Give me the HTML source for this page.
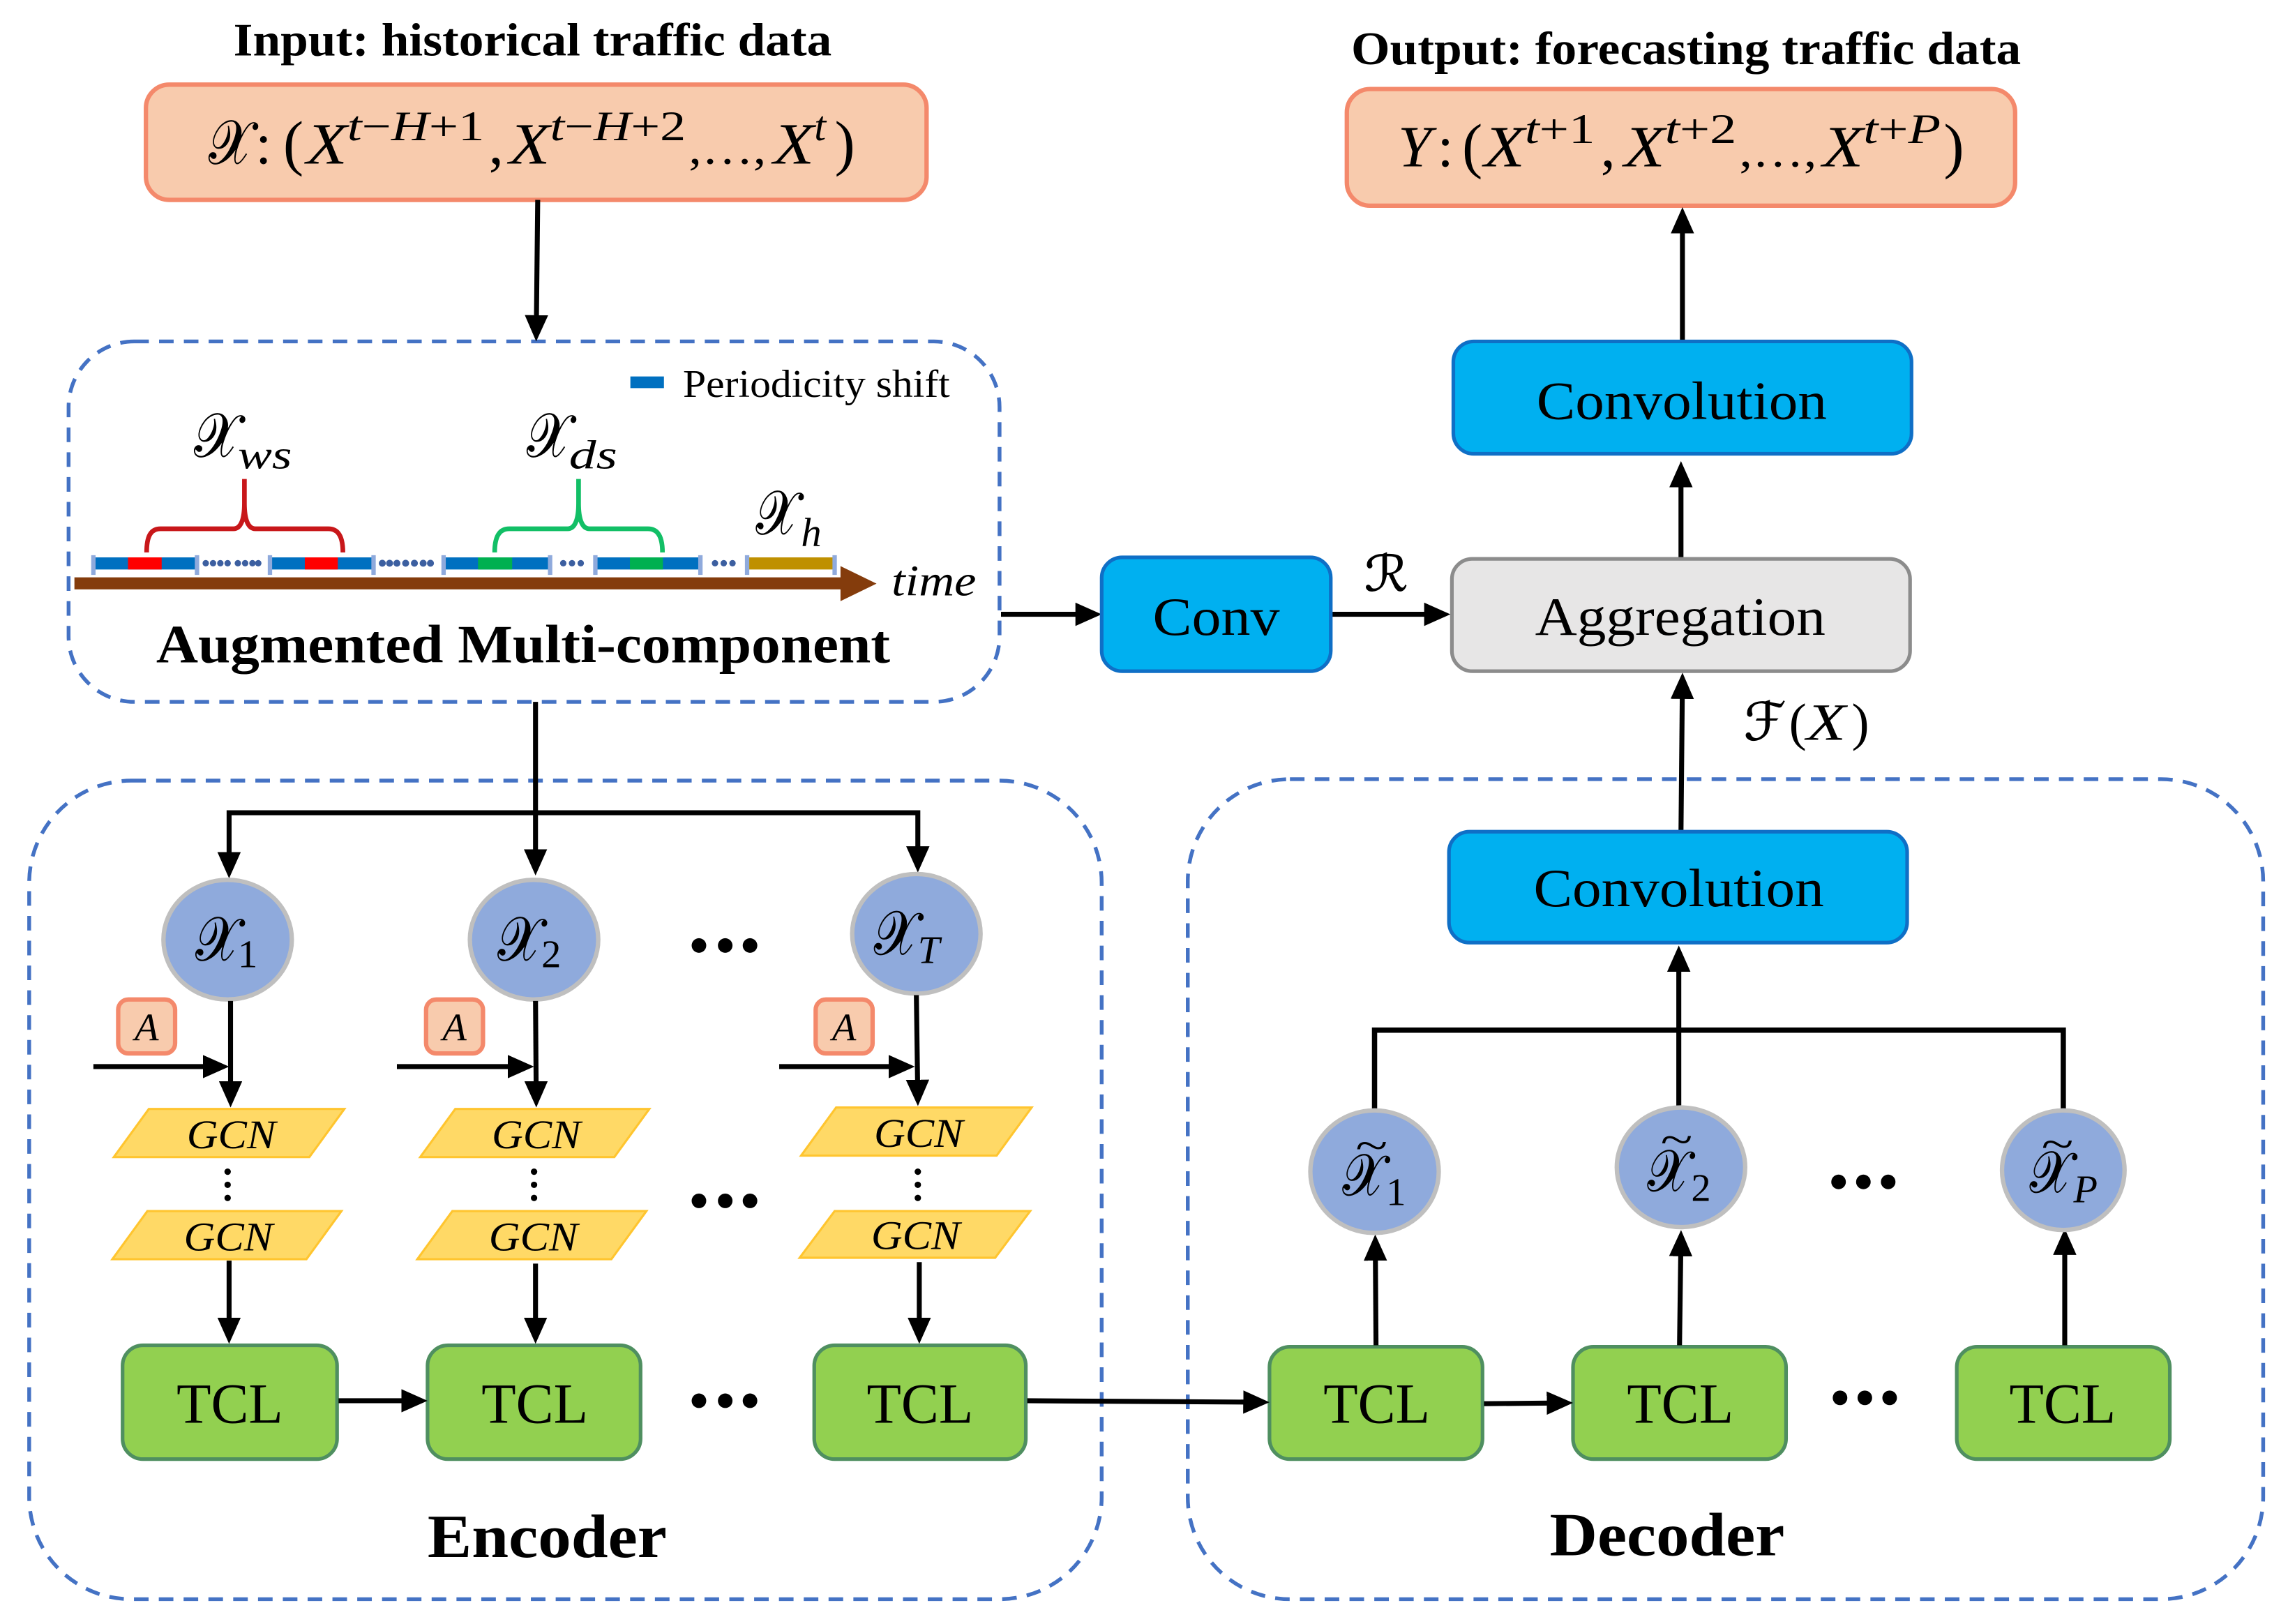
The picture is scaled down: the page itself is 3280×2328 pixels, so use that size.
<!DOCTYPE html>
<html>
<head>
<meta charset="utf-8">
<style>
html,body{margin:0;padding:0;background:#fff;width:3280px;height:2328px;overflow:hidden}
svg{display:block}
text{font-family:"Liberation Serif","DejaVu Serif",serif;fill:#000}
.i{font-style:italic}
.u{font-style:normal}
.b{font-weight:bold}
.s{font-family:"DejaVu Serif","DejaVu Sans","Liberation Serif",serif;font-style:normal;stroke:#000;stroke-width:.35}
.a{stroke:#000;stroke-width:3.4;fill:none;marker-end:url(#ah)}
.d{fill:none;stroke:#4472C4;stroke-width:2.6;stroke-dasharray:10 7}
.n{fill:#00B0F0;stroke:#0F6FC6;stroke-width:2.5}
.t{fill:#92D050;stroke:#4F8F60;stroke-width:2.5}
.o{fill:#F8CBAD;stroke:#F4896B;stroke-width:3}
.c{fill:#8FAADC;stroke:#BFBFBF;stroke-width:3}
.g{fill:#FFD966;stroke:#FFC52F;stroke-width:1.5}
.tick{stroke:#8FAADC;stroke-width:3}
.dk{fill:#000}
.bd{fill:#3C5FA0}
</style>
</head>
<body>
<svg xmlns="http://www.w3.org/2000/svg" width="3280" height="2328" viewBox="0 0 1568 1113" preserveAspectRatio="none">
<defs>
<marker id="ah" markerUnits="userSpaceOnUse" markerWidth="18" markerHeight="16" refX="14" refY="8" orient="auto">
<polygon points="0,0 18,8 0,16" fill="#000"/>
</marker>
</defs>
<rect width="1568" height="1113" fill="#fff"/>

<!-- Titles -->
<text class="b" x="160" y="38" font-size="32" textLength="410" lengthAdjust="spacingAndGlyphs">Input: historical traffic data</text>
<text class="b" x="926" y="44" font-size="32" textLength="459" lengthAdjust="spacingAndGlyphs">Output: forecasting traffic data</text>

<!-- Input / Output boxes -->
<rect class="o" x="100" y="58" width="535" height="79" rx="16"/>
<rect class="o" x="923" y="61" width="458" height="80" rx="16"/>

<g font-size="40">
<text class="s" x="143" y="112" font-size="42" textLength="30" lengthAdjust="spacingAndGlyphs">𝒳</text>
<text x="175" y="112">:</text>
<text x="194" y="112" font-size="42">(</text>
<text class="i" x="210" y="112" textLength="28" lengthAdjust="spacingAndGlyphs">X</text>
<text class="i" x="238" y="96" font-size="29" textLength="94" lengthAdjust="spacingAndGlyphs">t<tspan class="u">−</tspan>H<tspan class="u">+1</tspan></text>
<text x="335" y="112">,</text>
<text class="i" x="349" y="112" textLength="28" lengthAdjust="spacingAndGlyphs">X</text>
<text class="i" x="377" y="96" font-size="29" textLength="93" lengthAdjust="spacingAndGlyphs">t<tspan class="u">−</tspan>H<tspan class="u">+2</tspan></text>
<text x="472" y="112" textLength="53" font-size="32" lengthAdjust="spacingAndGlyphs">,…,</text>
<text class="i" x="530" y="112" textLength="28" lengthAdjust="spacingAndGlyphs">X</text>
<text class="i" x="558" y="96" font-size="29">t</text>
<text x="572" y="112" font-size="42">)</text>

<text class="i" x="958" y="114" textLength="23" lengthAdjust="spacingAndGlyphs">Y</text>
<text x="985" y="114">:</text>
<text x="1002" y="114" font-size="42">(</text>
<text class="i" x="1017" y="114" textLength="28" lengthAdjust="spacingAndGlyphs">X</text>
<text class="i" x="1045" y="98" font-size="29" textLength="48" lengthAdjust="spacingAndGlyphs">t<tspan class="u">+1</tspan></text>
<text x="1097" y="114">,</text>
<text class="i" x="1113" y="114" textLength="28" lengthAdjust="spacingAndGlyphs">X</text>
<text class="i" x="1141" y="98" font-size="29" textLength="49" lengthAdjust="spacingAndGlyphs">t<tspan class="u">+2</tspan></text>
<text x="1192" y="114" textLength="53" font-size="32" lengthAdjust="spacingAndGlyphs">,…,</text>
<text class="i" x="1249" y="114" textLength="28" lengthAdjust="spacingAndGlyphs">X</text>
<text class="i" x="1277" y="98" font-size="29" textLength="53" lengthAdjust="spacingAndGlyphs">t<tspan class="u">+</tspan>P</text>
<text x="1332" y="114" font-size="42">)</text>
</g>

<!-- Dashed containers -->
<rect class="d" x="47" y="234" width="638" height="247" rx="45"/>
<rect class="d" x="20" y="535" width="735" height="561" rx="70"/>
<rect class="d" x="814" y="534" width="737" height="562" rx="70"/>

<!-- Augmented content -->
<rect x="432" y="258" width="23" height="8" fill="#0070C0"/>
<text x="468" y="272" font-size="27" textLength="183" lengthAdjust="spacingAndGlyphs">Periodicity shift</text>

<text class="s" x="133" y="313" font-size="42" textLength="31" lengthAdjust="spacingAndGlyphs">𝒳</text>
<text class="i" x="163" y="321" font-size="28" textLength="37" lengthAdjust="spacingAndGlyphs">ws</text>
<text class="s" x="361" y="313" font-size="42" textLength="30" lengthAdjust="spacingAndGlyphs">𝒳</text>
<text class="i" x="390" y="321" font-size="28" textLength="33" lengthAdjust="spacingAndGlyphs">ds</text>
<text class="s" x="518" y="366" font-size="42" textLength="29" lengthAdjust="spacingAndGlyphs">𝒳</text>
<text class="i" x="549" y="374" font-size="28" textLength="14" lengthAdjust="spacingAndGlyphs">h</text>

<!-- Braces -->
<path d="M100.500 378.600 C100.500 368 103 362.400 110 362.400 L160 362.400 C165 362.400 167.500 356 167.500 345 L167.500 328.300 M167.500 345 C167.500 356 170 362.400 175 362.400 L225 362.400 C232 362.400 235 368 235 378.600" fill="none" stroke="#C8171A" stroke-width="3.2"/>
<path d="M339 378.600 C339 368 342 362.400 349 362.400 L389 362.400 C394 362.400 396.500 356 396.500 345 L396.500 328.300 M396.500 345 C396.500 356 399 362.400 404 362.400 L444 362.400 C451 362.400 454 368 454 378.600" fill="none" stroke="#12BF66" stroke-width="3.2"/>

<!-- Segments -->
<g>
<rect x="64.700" y="382" width="69.500" height="8.300" fill="#0070C0"/>
<rect x="87.700" y="382" width="23.100" height="8.300" fill="#FF0000"/>
<rect x="185.400" y="382" width="70.500" height="8.300" fill="#0070C0"/>
<rect x="208.900" y="382" width="22.600" height="8.300" fill="#FF0000"/>
<rect x="303.700" y="382" width="73.800" height="8.300" fill="#0070C0"/>
<rect x="327.600" y="382" width="23.400" height="8.300" fill="#00B050"/>
<rect x="407.400" y="382" width="72.600" height="8.300" fill="#0070C0"/>
<rect x="431.700" y="382" width="22.600" height="8.300" fill="#00B050"/>
<rect x="513" y="382" width="58.700" height="8.300" fill="#BF9000"/>
<g class="tick">
<line x1="64" y1="380.500" x2="64" y2="394"/><line x1="135" y1="380.500" x2="135" y2="394"/>
<line x1="185" y1="380.500" x2="185" y2="394"/><line x1="256" y1="380.500" x2="256" y2="394"/>
<line x1="304" y1="380.500" x2="304" y2="394"/><line x1="377" y1="380.500" x2="377" y2="394"/>
<line x1="408" y1="380.500" x2="408" y2="394"/><line x1="480" y1="380.500" x2="480" y2="394"/>
<line x1="512" y1="380.500" x2="512" y2="394"/><line x1="572" y1="380.500" x2="572" y2="394"/>
</g>
<g class="bd">
<circle cx="141" cy="386" r="2.200"/><circle cx="146" cy="386" r="2.200"/><circle cx="151" cy="386" r="2.200"/><circle cx="156" cy="386" r="2.200"/><circle cx="163" cy="386" r="2.200"/><circle cx="168" cy="386" r="2.200"/><circle cx="173" cy="386" r="2.200"/><circle cx="177" cy="386" r="2.200"/>
<circle cx="262" cy="386" r="2.400"/><circle cx="267" cy="386" r="2.400"/><circle cx="272" cy="386" r="2.400"/><circle cx="278" cy="386" r="2.400"/><circle cx="284" cy="386" r="2.400"/><circle cx="290" cy="386" r="2.400"/><circle cx="295" cy="386" r="2.400"/>
<circle cx="386" cy="386" r="2.200"/><circle cx="392" cy="386" r="2.200"/><circle cx="398" cy="386" r="2.200"/>
<circle cx="490" cy="386" r="2.200"/><circle cx="496" cy="386" r="2.200"/><circle cx="502" cy="386" r="2.200"/>
</g>
</g>

<!-- Time axis -->
<polygon points="51,395.700 576,395.700 576,388 600.700,400 576,412 576,403.900 51,403.900" fill="#843C0C"/>
<text class="i" x="611" y="408" font-size="30" textLength="58" lengthAdjust="spacingAndGlyphs">time</text>
<text class="b" x="107" y="454" font-size="37" textLength="503" lengthAdjust="spacingAndGlyphs">Augmented Multi-component</text>

<!-- Top connectors -->
<line class="a" x1="368.500" y1="137" x2="367.500" y2="230"/>
<line class="a" x1="686" y1="421" x2="751" y2="421"/>
<line class="a" x1="912" y1="421" x2="990" y2="421"/>
<line class="a" x1="1153" y1="234" x2="1153" y2="146"/>
<line class="a" x1="1152" y1="382" x2="1152" y2="320"/>
<line class="a" x1="1152" y1="570" x2="1153" y2="465"/>

<!-- Blue boxes -->
<rect class="n" x="755" y="382" width="157" height="78" rx="14"/>
<text x="790" y="435" font-size="37" textLength="87" lengthAdjust="spacingAndGlyphs">Conv</text>
<rect class="n" x="996" y="234" width="314" height="77" rx="14"/>
<text x="1053" y="287" font-size="37" textLength="199" lengthAdjust="spacingAndGlyphs">Convolution</text>
<rect x="995" y="383" width="314" height="77" rx="14" fill="#E7E6E6" stroke="#8C8C8C" stroke-width="2.5"/>
<text x="1052" y="435" font-size="37" textLength="199" lengthAdjust="spacingAndGlyphs">Aggregation</text>
<rect class="n" x="993" y="570" width="314" height="76" rx="14"/>
<text x="1051" y="621" font-size="37" textLength="199" lengthAdjust="spacingAndGlyphs">Convolution</text>

<text class="s" x="935" y="405" font-size="34" textLength="30" lengthAdjust="spacingAndGlyphs">ℛ</text>
<text class="s" x="1195" y="507" font-size="36" textLength="29" lengthAdjust="spacingAndGlyphs">ℱ</text>
<text x="1226" y="507" font-size="36">(</text>
<text class="i" x="1238" y="507" font-size="36" textLength="27" lengthAdjust="spacingAndGlyphs">X</text>
<text x="1269" y="507" font-size="36">)</text>

<!-- Encoder distribution -->
<line class="a" x1="367" y1="481" x2="367" y2="596"/>
<path d="M157 598 L157 557 L629 557 L629 594" class="a" style="marker-end:none"/>
<line class="a" x1="157" y1="585" x2="157" y2="598"/>
<line class="a" x1="629" y1="580" x2="629" y2="594"/>

<!-- Encoder circles -->
<ellipse class="c" cx="156" cy="644" rx="44" ry="41"/>
<ellipse class="c" cx="366" cy="644" rx="44" ry="41"/>
<ellipse class="c" cx="628" cy="640" rx="44" ry="41"/>
<text class="s" x="134" y="658" font-size="42" textLength="30" lengthAdjust="spacingAndGlyphs">𝒳</text>
<text x="163" y="663" font-size="27">1</text>
<text class="s" x="341" y="658" font-size="42" textLength="30" lengthAdjust="spacingAndGlyphs">𝒳</text>
<text x="371" y="663" font-size="27">2</text>
<text class="s" x="599" y="654" font-size="42" textLength="30" lengthAdjust="spacingAndGlyphs">𝒳</text>
<text class="i" x="629" y="660" font-size="27">T</text>

<!-- A boxes -->
<g stroke-width="2.5">
<rect class="o" x="81" y="685" width="39" height="37" rx="7"/>
<rect class="o" x="292" y="685" width="39" height="37" rx="7"/>
<rect class="o" x="559" y="685" width="39" height="37" rx="7"/>
</g>
<text class="i" x="100.500" y="713" font-size="27" text-anchor="middle">A</text>
<text class="i" x="311.500" y="713" font-size="27" text-anchor="middle">A</text>
<text class="i" x="578.500" y="713" font-size="27" text-anchor="middle">A</text>

<!-- Encoder arrows to GCN -->
<line class="a" x1="158" y1="686" x2="158" y2="755"/>
<line class="a" x1="64" y1="731" x2="153" y2="731"/>
<line class="a" x1="367" y1="686" x2="367.500" y2="755"/>
<line class="a" x1="272" y1="731" x2="362" y2="731"/>
<line class="a" x1="628" y1="682" x2="629" y2="754"/>
<line class="a" x1="534" y1="731" x2="623" y2="731"/>

<!-- GCN -->
<polygon class="g" points="102,760 236,760 212,793 78,793"/>
<polygon class="g" points="101,830 234,830 210,863 77,863"/>
<polygon class="g" points="312,760 445,760 421,793 288,793"/>
<polygon class="g" points="310,830 443,830 419,863 286,863"/>
<polygon class="g" points="573,759 707,759 683,792 549,792"/>
<polygon class="g" points="572,830 706,830 682,862 548,862"/>
<g class="i" font-size="28" lengthAdjust="spacingAndGlyphs">
<text class="i" x="128" y="787" font-size="28" textLength="61" lengthAdjust="spacingAndGlyphs">GCN</text>
<text class="i" x="126" y="857" font-size="28" textLength="61" lengthAdjust="spacingAndGlyphs">GCN</text>
<text class="i" x="337" y="787" font-size="28" textLength="61" lengthAdjust="spacingAndGlyphs">GCN</text>
<text class="i" x="335" y="857" font-size="28" textLength="61" lengthAdjust="spacingAndGlyphs">GCN</text>
<text class="i" x="599" y="786" font-size="28" textLength="61" lengthAdjust="spacingAndGlyphs">GCN</text>
<text class="i" x="597" y="856" font-size="28" textLength="61" lengthAdjust="spacingAndGlyphs">GCN</text>
</g>
<g class="dk">
<circle cx="156" cy="803" r="2.200"/><circle cx="156" cy="812" r="2.200"/><circle cx="156" cy="821" r="2.200"/>
<circle cx="366" cy="803" r="2.200"/><circle cx="366" cy="812" r="2.200"/><circle cx="366" cy="821" r="2.200"/>
<circle cx="629" cy="803" r="2.200"/><circle cx="629" cy="812" r="2.200"/><circle cx="629" cy="821" r="2.200"/>
</g>

<line class="a" x1="157" y1="864" x2="157" y2="917"/>
<line class="a" x1="367" y1="866" x2="367" y2="917"/>
<line class="a" x1="630" y1="865" x2="630" y2="917"/>

<!-- TCL -->
<rect class="t" x="84" y="922" width="147" height="78" rx="14"/>
<rect class="t" x="293" y="922" width="146" height="78" rx="14"/>
<rect class="t" x="558" y="922" width="145" height="78" rx="14"/>
<rect class="t" x="870" y="923" width="146" height="77" rx="14"/>
<rect class="t" x="1078" y="923" width="146" height="77" rx="14"/>
<rect class="t" x="1341" y="923" width="146" height="77" rx="14"/>
<text x="121" y="975" font-size="39" textLength="73" lengthAdjust="spacingAndGlyphs">TCL</text>
<text x="330" y="975" font-size="39" textLength="73" lengthAdjust="spacingAndGlyphs">TCL</text>
<text x="594" y="975" font-size="39" textLength="73" lengthAdjust="spacingAndGlyphs">TCL</text>
<text x="907" y="975" font-size="39" textLength="73" lengthAdjust="spacingAndGlyphs">TCL</text>
<text x="1115" y="975" font-size="39" textLength="73" lengthAdjust="spacingAndGlyphs">TCL</text>
<text x="1377" y="975" font-size="39" textLength="73" lengthAdjust="spacingAndGlyphs">TCL</text>

<line class="a" x1="232" y1="960" x2="289" y2="960"/>
<line class="a" x1="704" y1="960" x2="866" y2="961"/>
<line class="a" x1="1017" y1="962" x2="1074" y2="961.500"/>

<!-- Decoder -->
<line class="a" x1="943" y1="922" x2="942.500" y2="850"/>
<line class="a" x1="1151" y1="922" x2="1152" y2="847"/>
<line class="a" x1="1415" y1="922" x2="1415" y2="846"/>
<path d="M942 762 L942 706 L1414 706 L1414 762" fill="none" stroke="#000" stroke-width="3.6"/>
<line class="a" x1="1150.500" y1="760" x2="1150.500" y2="652"/>

<ellipse class="c" cx="942" cy="803" rx="44" ry="42"/>
<ellipse class="c" cx="1152" cy="800" rx="44" ry="41"/>
<ellipse class="c" cx="1414" cy="802" rx="42" ry="41"/>

<text class="s" x="920" y="819" font-size="40" textLength="29" lengthAdjust="spacingAndGlyphs">𝒳</text>
<text x="929" y="795" font-size="30" textLength="22" lengthAdjust="spacingAndGlyphs">~</text>
<text x="950" y="826" font-size="27">1</text>
<text class="s" x="1129" y="816" font-size="40" textLength="29" lengthAdjust="spacingAndGlyphs">𝒳</text>
<text x="1138" y="791" font-size="30" textLength="22" lengthAdjust="spacingAndGlyphs">~</text>
<text x="1159" y="823" font-size="27">2</text>
<text class="s" x="1391" y="817" font-size="40" textLength="29" lengthAdjust="spacingAndGlyphs">𝒳</text>
<text x="1399" y="794" font-size="30" textLength="22" lengthAdjust="spacingAndGlyphs">~</text>
<text class="i" x="1421" y="824" font-size="27">P</text>

<!-- Ellipsis dots -->
<g class="dk">
<circle cx="479" cy="648" r="5"/><circle cx="497" cy="648" r="5"/><circle cx="514" cy="648" r="5"/>
<circle cx="479" cy="823" r="5"/><circle cx="497" cy="823" r="5"/><circle cx="514" cy="823" r="5"/>
<circle cx="479" cy="960" r="5"/><circle cx="497" cy="960" r="5"/><circle cx="514" cy="960" r="5"/>
<circle cx="1260" cy="810" r="5"/><circle cx="1277" cy="810" r="5"/><circle cx="1294" cy="810" r="5"/>
<circle cx="1261" cy="958" r="5"/><circle cx="1278" cy="958" r="5"/><circle cx="1295" cy="958" r="5"/>
</g>

<text class="b" x="293" y="1067" font-size="42" textLength="164" lengthAdjust="spacingAndGlyphs">Encoder</text>
<text class="b" x="1062" y="1066" font-size="42" textLength="161" lengthAdjust="spacingAndGlyphs">Decoder</text>
</svg>
</body>
</html>
